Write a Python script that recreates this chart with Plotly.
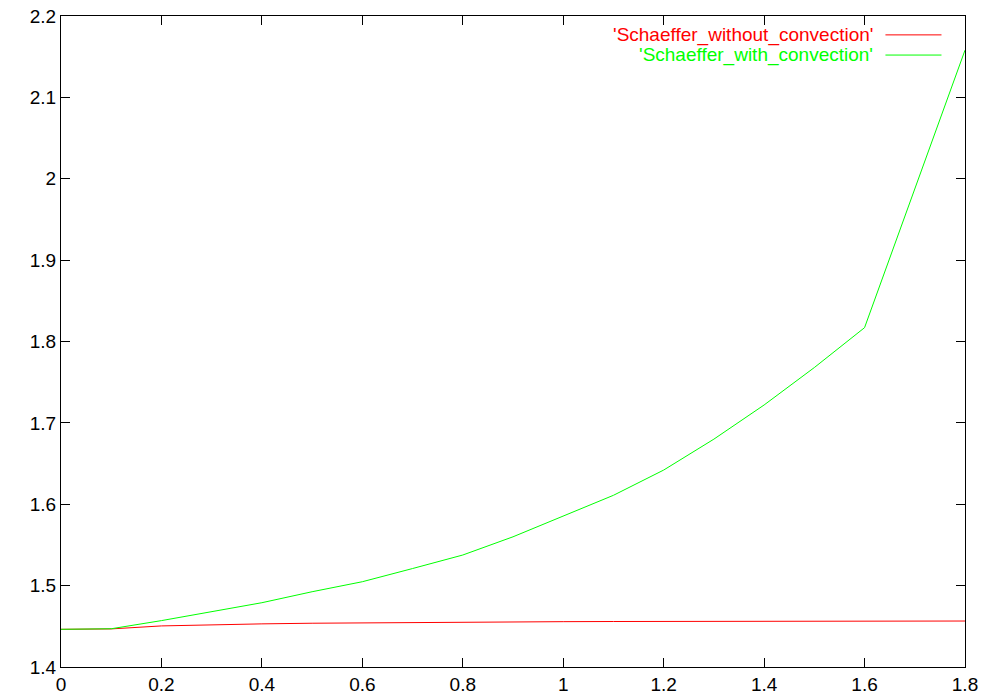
import plotly.graph_objects as go

x_vals = [0.0, 0.1, 0.2, 0.3, 0.4, 0.5, 0.6, 0.7, 0.8, 0.9, 1.0, 1.1, 1.2, 1.3, 1.4, 1.5, 1.6, 1.8]
without_conv = [1.4463, 1.4468, 1.4505, 1.4520, 1.4530, 1.4538, 1.4543, 1.4548, 1.4552, 1.4555,
                1.4557, 1.4559, 1.4560, 1.4561, 1.4562, 1.4563, 1.4564, 1.4565]
with_conv = [1.4463, 1.4470, 1.4570, 1.4680, 1.4790, 1.4925, 1.5048, 1.5210, 1.5376, 1.5600,
             1.5855, 1.6110, 1.6420, 1.6800, 1.7220, 1.7680, 1.8170, 2.1580]
series_names = ["'Schaeffer_without_convection'", "'Schaeffer_with_convection'"]
series_colors = ["#ff0000", "#00ff00"]
x_ticks = [0, 0.2, 0.4, 0.6, 0.8, 1, 1.2, 1.4, 1.6, 1.8]
x_ticktext = ["0", "0.2", "0.4", "0.6", "0.8", "1", "1.2", "1.4", "1.6", "1.8"]
y_ticks = [1.4, 1.5, 1.6, 1.7, 1.8, 1.9, 2.0, 2.1, 2.2]
y_ticktext = ["1.4", "1.5", "1.6", "1.7", "1.8", "1.9", "2", "2.1", "2.2"]

fig = go.Figure()
for ys, name, col in zip([without_conv, with_conv], series_names, series_colors):
    fig.add_trace(go.Scatter(x=x_vals, y=ys, mode="lines", name=name,
                             line=dict(color=col, width=1), showlegend=False))

font = dict(family="Liberation Sans, Arial, sans-serif", size=19, color="#000000")

axis_common = dict(showgrid=False, zeroline=False, showline=True, mirror="allticks",
                   linecolor="#000000", linewidth=1, ticks="inside", ticklen=9,
                   tickcolor="#000000", tickwidth=1, tickfont=font, automargin=False)

fig.update_xaxes(range=[0, 1.8], tickvals=x_ticks, ticktext=x_ticktext, **axis_common)
fig.update_yaxes(range=[1.4, 2.2], tickvals=y_ticks, ticktext=y_ticktext, **axis_common)

# gnuplot-style legend: text right-aligned, sample line to the right
leg_y = [0.971, 0.940]
for i, (name, col) in enumerate(zip(series_names, series_colors)):
    fig.add_annotation(xref="paper", yref="paper", x=0.900, y=leg_y[i], text=name,
                       showarrow=False, xanchor="right", yanchor="middle",
                       font=dict(family=font["family"], size=19, color=col))
    fig.add_shape(type="line", xref="paper", yref="paper", x0=0.912, x1=0.974,
                  y0=leg_y[i], y1=leg_y[i], line=dict(color=col, width=1))

fig.update_layout(width=981, height=696, margin=dict(l=61, r=16, t=16, b=29),
                  paper_bgcolor="#ffffff", plot_bgcolor="#ffffff", font=font)

fig.write_html("out.html", config={"displayModeBar": False},
               post_script="document.body.style.margin='0';document.body.style.overflow='hidden';")
